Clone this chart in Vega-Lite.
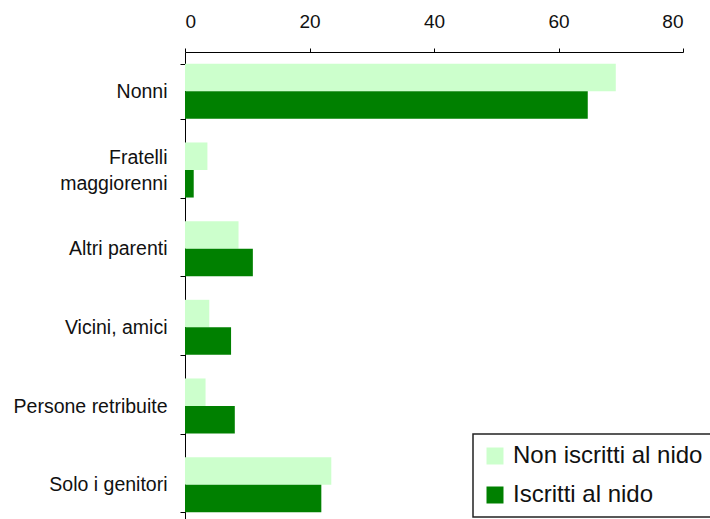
{
  "$schema": "https://vega.github.io/schema/vega-lite/v6.json",
  "autosize": "none",
  "width": 498,
  "height": 472,
  "padding": {"left": 185, "top": 52, "right": 27, "bottom": 0},
  "background": "white",
  "config": {
    "view": {"stroke": null},
    "font": "Liberation Sans",
    "axis": {"grid": false, "domainColor": "black", "tickColor": "black", "labelColor": "#111", "labelFont": "Liberation Sans", "titleFont": "Liberation Sans"}
  },
  "data": {
    "values": [
      {"cat": "Nonni", "serie": "Non iscritti al nido", "v": 69.2},
      {"cat": "Nonni", "serie": "Iscritti al nido", "v": 64.7},
      {"cat": "Fratelli maggiorenni", "serie": "Non iscritti al nido", "v": 3.6},
      {"cat": "Fratelli maggiorenni", "serie": "Iscritti al nido", "v": 1.4},
      {"cat": "Altri parenti", "serie": "Non iscritti al nido", "v": 8.6},
      {"cat": "Altri parenti", "serie": "Iscritti al nido", "v": 10.9},
      {"cat": "Vicini, amici", "serie": "Non iscritti al nido", "v": 3.9},
      {"cat": "Vicini, amici", "serie": "Iscritti al nido", "v": 7.4},
      {"cat": "Persone retribuite", "serie": "Non iscritti al nido", "v": 3.3},
      {"cat": "Persone retribuite", "serie": "Iscritti al nido", "v": 8.0},
      {"cat": "Solo i genitori", "serie": "Non iscritti al nido", "v": 23.5},
      {"cat": "Solo i genitori", "serie": "Iscritti al nido", "v": 21.9}
    ]
  },
  "mark": {"type": "bar"},
  "encoding": {
    "y": {
      "field": "cat",
      "type": "nominal",
      "sort": null,
      "scale": {"paddingInner": 0.3, "paddingOuter": 0.15},
      "axis": {
        "title": null,
        "labelFontSize": 19.5,
        "tickBand": "extent",
        "tickSize": 5,
        "labelPadding": 13,
        "labelLimit": 300,
        "labelLineHeight": 26,
        "labelExpr": "datum.value == 'Fratelli maggiorenni' ? ['Fratelli', 'maggiorenni'] : datum.label",
        "labelOffset": {"condition": {"test": "datum.value == 'Fratelli maggiorenni'", "value": -13}, "value": 0}
      }
    },
    "yOffset": {"field": "serie", "type": "nominal", "sort": ["Non iscritti al nido", "Iscritti al nido"]},
    "x": {
      "field": "v",
      "type": "quantitative",
      "scale": {"domain": [0, 80], "nice": false},
      "axis": {"orient": "top", "title": null, "values": [0, 20, 40, 60, 80], "labelFontSize": 19, "tickSize": 4, "labelPadding": 17}
    },
    "color": {
      "field": "serie",
      "type": "nominal",
      "sort": ["Non iscritti al nido", "Iscritti al nido"],
      "scale": {"domain": ["Non iscritti al nido", "Iscritti al nido"], "range": ["#CCFFCC", "#008000"]},
      "legend": {
        "title": null,
        "orient": "none",
        "legendX": 288,
        "legendY": 382,
        "symbolType": "square",
        "symbolSize": 289,
        "symbolStrokeWidth": 0,
        "labelFontSize": 24,
        "labelColor": "#111",
        "labelOffset": 6,
        "rowPadding": 15,
        "padding": 10,
        "cornerRadius": 0,
        "strokeColor": "#222",
        "fillColor": "white",
        "labelLimit": 300,
        "encode": {"legend": {"update": {"strokeWidth": {"value": 1.5}}}}
      }
    }
  }
}
